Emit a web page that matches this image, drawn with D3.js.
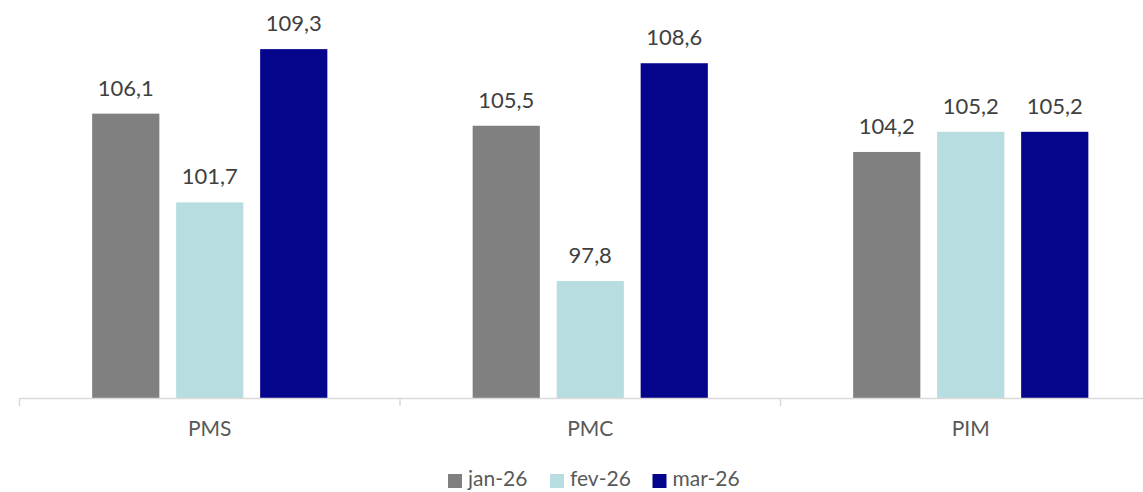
<!DOCTYPE html>
<html>
<head>
<meta charset="utf-8">
<script src="https://cdn.jsdelivr.net/npm/d3@7"></script>
<style>
  html, body { margin: 0; padding: 0; background: #fff; }
  svg { display: block; font-family: Lato, "Open Sans", sans-serif; }
</style>
</head>
<body>
<svg id="chart" width="1143" height="492"></svg>
<script>
const categories = ['PMS', 'PMC', 'PIM'];
const seriesNames = ['jan-26', 'fev-26', 'mar-26'];
const jan26 = [106.1, 105.5, 104.2];
const fev26 = [101.7, 97.8, 105.2];
const mar26 = [109.3, 108.6, 105.2];
const seriesColors = ['#808080', '#b7dde1', '#05058c'];

const series = [jan26, fev26, mar26];
const svg = d3.select('#chart');

// the category axis runs past the right edge of the picture (clipped)
const x = d3.scaleBand().domain(categories).range([19.5, 1161]);
const inner = d3.scaleBand().domain(seriesNames).range([0, x.bandwidth()])
  .paddingInner(0.2).paddingOuter(0.865);
const y = d3.scaleLinear().domain([92, 110]).range([398, 35]);

const fmt = (v) => d3.format('.1f')(v).replace('.', ',');

categories.forEach((cat, ci) => {
  const g = svg.append('g').attr('transform', `translate(${x(cat)},0)`);
  series.forEach((vals, si) => {
    const v = vals[ci];
    const bx = inner(seriesNames[si]);
    g.append('rect')
      .attr('x', bx)
      .attr('y', y(v))
      .attr('width', inner.bandwidth())
      .attr('height', y(92) - y(v))
      .attr('fill', seriesColors[si]);
    g.append('text')
      .attr('x', bx + inner.bandwidth() / 2)
      .attr('y', y(v) - 18)
      .attr('text-anchor', 'middle')
      .attr('font-size', 22)
      .attr('fill', '#404040')
      .text(fmt(v));
  });
});

const axis = svg.append('g')
  .attr('transform', `translate(0,${y(92)})`)
  .call(d3.axisBottom(x).tickSize(0).tickPadding(23));
axis.select('.domain').attr('stroke', '#d9d9d9').attr('stroke-width', 1.5);
axis.selectAll('.tick text')
  .attr('font-size', 21)
  .attr('fill', '#595959')
  .attr('font-family', 'Lato, "Open Sans", sans-serif');

// boundary ticks between categories
const bounds = categories.map((c) => x(c)).concat([x.range()[1]]);
axis.selectAll('line.sep')
  .data(bounds)
  .enter()
  .append('line')
  .attr('class', 'sep')
  .attr('x1', (d) => d).attr('x2', (d) => d)
  .attr('y1', 0).attr('y2', 8)
  .attr('stroke', '#d9d9d9')
  .attr('stroke-width', 1.5);

// legend
const legendX = [448, 550, 652.5];
const legend = svg.append('g');
seriesNames.forEach((name, i) => {
  legend.append('rect')
    .attr('x', legendX[i]).attr('y', 474)
    .attr('width', 14).attr('height', 14)
    .attr('fill', seriesColors[i]);
  legend.append('text')
    .attr('x', legendX[i] + 20).attr('y', 486)
    .attr('font-size', 21)
    .attr('fill', '#595959')
    .text(name);
});
</script>
</body>
</html>
